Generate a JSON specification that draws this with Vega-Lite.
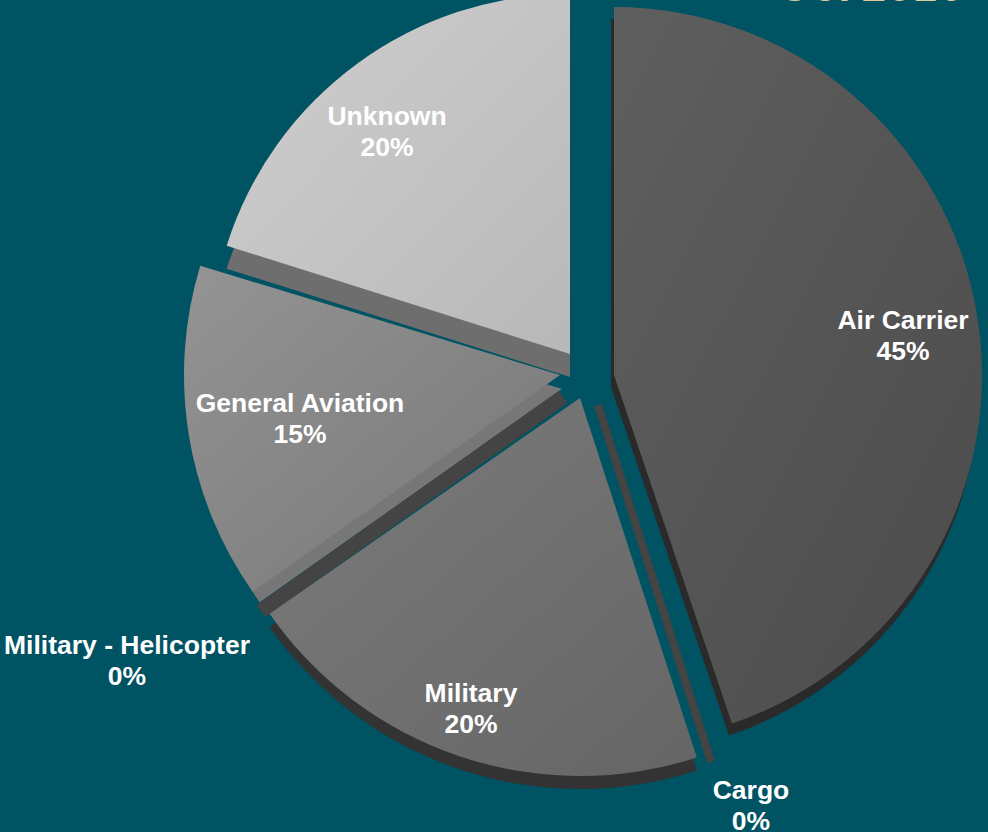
{
"$schema":"https://vega.github.io/schema/vega-lite/v6.json",
"width":988,"height":832,"padding":0,
"autosize":{"type":"none"},
"background":"#005363",
"config":{"view":{"stroke":null}},
"datasets":{
"slices":[
{"category":"Air Carrier","share":45,"start":0,"end":161.3,"cx":614,"cy":375,"r":368},
{"category":"Military","share":20,"start":162,"end":235.2,"cx":580,"cy":398,"r":378},
{"category":"General Aviation","share":15,"start":234.8,"end":286.9,"cx":560,"cy":375,"r":376},
{"category":"Unknown","share":20,"start":287.5,"end":360,"cx":570,"cy":354,"r":360}
],
"sides":[
{"category":"Air Carrier","start":0,"end":161.3,"cx":611,"cy":387,"r":368},
{"category":"Military","start":162,"end":235.2,"cx":580,"cy":411,"r":378},
{"category":"General Aviation","start":234.8,"end":286.9,"cx":562,"cy":389,"r":370},
{"category":"Unknown","start":287.5,"end":360,"cx":570,"cy":377,"r":360}
],
"slivers":[
{"category":"Cargo","x0":598,"y0":405,"x1":711,"y1":762},
{"category":"Military - Helicopter","x0":563,"y0":397,"x1":261,"y1":611}
],
"labels":[
{"label":"Air Carrier\n45%","lx":903,"ly":321},
{"label":"Unknown\n20%","lx":387,"ly":117},
{"label":"General Aviation\n15%","lx":300,"ly":404},
{"label":"Military\n20%","lx":471,"ly":694},
{"label":"Military - Helicopter\n0%","lx":127,"ly":646},
{"label":"Cargo\n0%","lx":751,"ly":791}
],
"heading":[{"label":"Oct 2016","lx":870,"ly":1}]
},
"encoding":{
"x":{"field":"cx","type":"quantitative","scale":{"domain":[0,988],"nice":false,"zero":false},"axis":null},
"y":{"field":"cy","type":"quantitative","scale":{"domain":[0,832],"reverse":true,"nice":false,"zero":false},"axis":null}
},
"layer":[
{"data":{"name":"sides"},"mark":{"type":"arc"},
"encoding":{
"theta":{"field":"start","type":"quantitative","scale":{"domain":[0,360],"range":[0,6.283185]}},
"theta2":{"field":"end"},
"radius":{"field":"r","type":"quantitative","scale":{"domain":[0,400],"range":[0,400],"nice":false}},
"color":{"field":"category","type":"nominal","legend":null,"scale":{"domain":["Air Carrier","Military","General Aviation","Unknown"],"range":["#2a2a2a","#333333","#777777","#6e6e6e"]}}
}},
{"data":{"name":"slivers"},"transform":[{"filter":"datum.category==='Cargo'"}],"mark":{"type":"rule","strokeCap":"butt","color":"#444444","strokeWidth":8},
"encoding":{
"x":{"field":"x0","type":"quantitative","axis":null},
"y":{"field":"y0","type":"quantitative","axis":null},
"x2":{"field":"x1"},"y2":{"field":"y1"}
}},
{"data":{"name":"slivers"},"transform":[{"filter":"datum.category!=='Cargo'"}],"mark":{"type":"rule","strokeCap":"butt","color":"#444444","strokeWidth":15},
"encoding":{
"x":{"field":"x0","type":"quantitative","axis":null},
"y":{"field":"y0","type":"quantitative","axis":null},
"x2":{"field":"x1"},"y2":{"field":"y1"}
}},
{"data":{"name":"slices"},"transform":[{"filter":"datum.category==='Air Carrier'"}],
"mark":{"type":"arc","fill":{"gradient":"linear","x1":0,"y1":0,"x2":1,"y2":1,"stops":[{"offset":0,"color":"#5f5f5f"},{"offset":1,"color":"#4b4b4b"}]}},
"encoding":{
"theta":{"field":"start","type":"quantitative","scale":{"domain":[0,360],"range":[0,6.283185]}},
"theta2":{"field":"end"},
"radius":{"field":"r","type":"quantitative","scale":{"domain":[0,400],"range":[0,400],"nice":false}}
}},
{"data":{"name":"slices"},"transform":[{"filter":"datum.category==='Military'"}],
"mark":{"type":"arc","fill":{"gradient":"linear","x1":0,"y1":0,"x2":1,"y2":1,"stops":[{"offset":0,"color":"#7c7c7c"},{"offset":1,"color":"#656565"}]}},
"encoding":{
"theta":{"field":"start","type":"quantitative","scale":{"domain":[0,360],"range":[0,6.283185]}},
"theta2":{"field":"end"},
"radius":{"field":"r","type":"quantitative","scale":{"domain":[0,400],"range":[0,400],"nice":false}}
}},
{"data":{"name":"slices"},"transform":[{"filter":"datum.category==='General Aviation'"}],
"mark":{"type":"arc","fill":{"gradient":"linear","x1":0,"y1":0,"x2":1,"y2":1,"stops":[{"offset":0,"color":"#949494"},{"offset":1,"color":"#767676"}]}},
"encoding":{
"theta":{"field":"start","type":"quantitative","scale":{"domain":[0,360],"range":[0,6.283185]}},
"theta2":{"field":"end"},
"radius":{"field":"r","type":"quantitative","scale":{"domain":[0,400],"range":[0,400],"nice":false}}
}},
{"data":{"name":"slices"},"transform":[{"filter":"datum.category==='Unknown'"}],
"mark":{"type":"arc","fill":{"gradient":"linear","x1":0,"y1":0,"x2":1,"y2":1,"stops":[{"offset":0,"color":"#cfcfcf"},{"offset":1,"color":"#b8b8b8"}]}},
"encoding":{
"theta":{"field":"start","type":"quantitative","scale":{"domain":[0,360],"range":[0,6.283185]}},
"theta2":{"field":"end"},
"radius":{"field":"r","type":"quantitative","scale":{"domain":[0,400],"range":[0,400],"nice":false}}
}},
{"data":{"name":"labels"},"mark":{"type":"text","font":"Liberation Sans","fontWeight":"bold","fontSize":26.5,"color":"#ffffff","lineBreak":"\n","lineHeight":31,"align":"center","baseline":"middle"},
"encoding":{
"x":{"field":"lx","type":"quantitative","axis":null},
"y":{"field":"ly","type":"quantitative","axis":null},
"text":{"field":"label"}
}},
{"data":{"name":"heading"},"mark":{"type":"text","font":"Liberation Sans","fontSize":46,"color":"#e0cb9b","align":"center","baseline":"alphabetic"},
"encoding":{
"x":{"field":"lx","type":"quantitative","axis":null},
"y":{"field":"ly","type":"quantitative","axis":null},
"text":{"field":"label"}
}}
]
}
